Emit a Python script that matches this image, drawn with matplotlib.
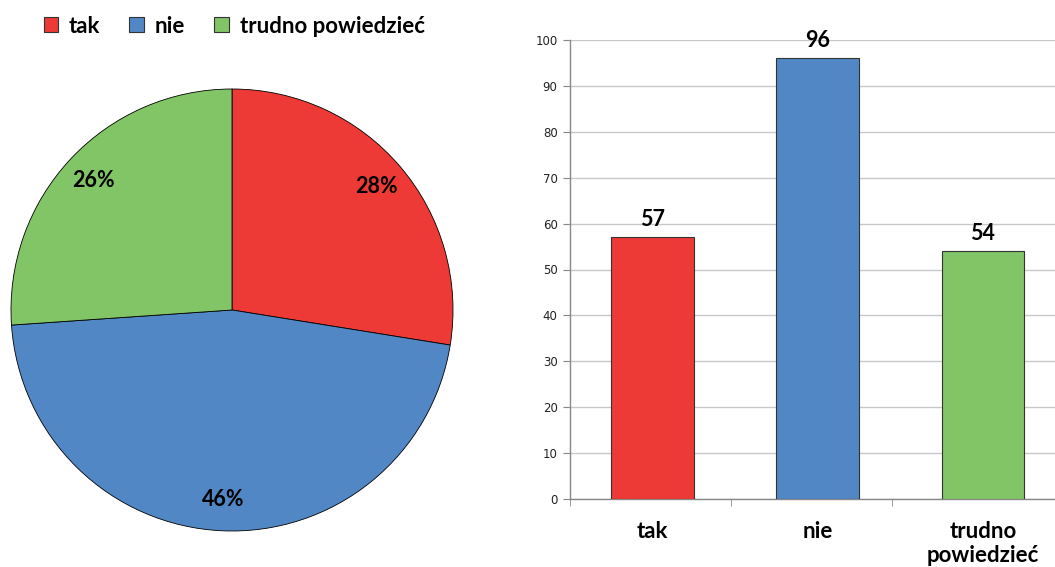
import matplotlib
matplotlib.use("Agg")
import matplotlib.pyplot as plt
from matplotlib.patches import Patch
import numpy as np

categories = ["tak", "nie", "trudno powiedzieć"]
bar_labels = ["tak", "nie", "trudno\npowiedzieć"]
values = [57, 96, 54]
pct_labels = ["28%", "46%", "26%"]
colors = ["#EE3A36", "#5287C6", "#82C566"]
yticks = list(range(0, 101, 10))

FONT = ["Lato", "DejaVu Sans"]
plt.rcParams['font.family'] = FONT

fig = plt.figure(figsize=(10.55, 5.67), dpi=100)

# Pie
axp = fig.add_axes([11/1055, 36/567, 442/1055, 442/567])
wedges, _ = axp.pie(values, colors=colors, startangle=90, counterclock=False,
                    wedgeprops=dict(edgecolor="black", linewidth=0.6))
for w, lab in zip(wedges, pct_labels):
    mid = np.deg2rad((w.theta1 + w.theta2) / 2)
    axp.text(0.86*np.cos(mid), 0.86*np.sin(mid), lab, ha="center", va="center",
             fontsize=15.5, fontweight="bold")
axp.set_xlim(-1, 1); axp.set_ylim(-1, 1)
axp.set_aspect("equal")
axp.axis("off")

# Legend
handles = [Patch(facecolor=c, edgecolor="#333333", linewidth=0.8) for c in colors]
fig.legend(handles, categories, loc="upper left", bbox_to_anchor=(28/1055, 1 - 0/567),
           ncol=3, frameon=False, prop=dict(size=16, weight="bold"),
           handlelength=0.65, handleheight=0.65, handletextpad=0.5, columnspacing=1.3,
           borderaxespad=0.3)

# Bars
axb = fig.add_axes([570/1055, 68/567, 485/1055, 459/567])
x = np.arange(len(values))
bars = axb.bar(x, values, width=0.50, color=colors, edgecolor="#333333", linewidth=0.8, zorder=3)
for xi, v in zip(x, values):
    axb.text(xi, v + 1.5, str(v), ha="center", va="bottom", fontsize=15.5, fontweight="bold")
axb.set_xlim(-0.5, 2.436)
axb.set_ylim(0, 100)
axb.set_yticks(yticks)
axb.set_yticklabels([str(t) for t in yticks], fontsize=8.5, family="DejaVu Sans", color="#222222")
axb.set_xticks(x)
axb.set_xticklabels(bar_labels, fontsize=16, fontweight="bold", linespacing=1.15)
axb.set_xticks([-0.5, 0.475, 1.45], minor=True)
axb.tick_params(axis="x", which="major", length=0, pad=16)
axb.tick_params(axis="x", which="minor", length=5, color="#888888", direction="out")
axb.tick_params(axis="y", length=5, color="#888888", pad=4)
axb.grid(axis="y", color="#C8C8C8", linewidth=1, zorder=0)
for s in ["top", "right"]:
    axb.spines[s].set_visible(False)
for s in ["left", "bottom"]:
    axb.spines[s].set_color("#888888")
    axb.spines[s].set_linewidth(1)

fig.savefig("out.png", dpi=100)
